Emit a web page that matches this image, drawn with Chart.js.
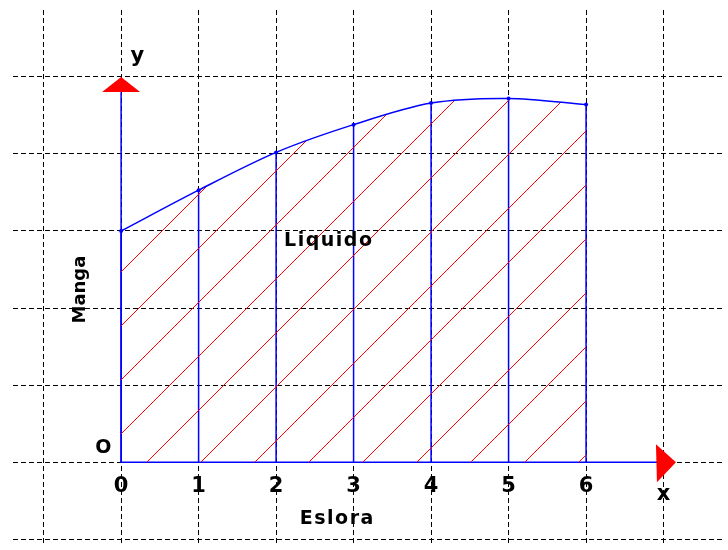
<!DOCTYPE html>
<html>
<head>
<meta charset="utf-8">
<script src="https://cdn.jsdelivr.net/npm/chart.js@4.4.1/dist/chart.umd.min.js"></script>
<style>
  html, body { margin: 0; padding: 0; background: #fff; }
</style>
</head>
<body>
<canvas id="chart" width="728" height="550"></canvas>
<script>
// stations along the length (Eslora) and half-breadths (Manga)
const eslora = [0, 1, 2, 3, 4, 5, 6];
const manga = [3.0, 3.53, 4.02, 4.38, 4.66, 4.72, 4.64];
const tickLabels = ['0', '1', '2', '3', '4', '5', '6'];

// visible window of the grid, in data units
const xRange = [-1.395, 7.78];
const yRange = [-1.088, 5.868];
const xAxisEnd = 7;
const yAxisEnd = 4.8;

const BLUE = '#0000ff';
const RED = '#ff0000';
const FONT = '"DejaVu Sans", "Liberation Sans", sans-serif';

// diagonal red hatching used as the fill under the curve
function makeHatch() {
    const c = document.createElement('canvas');
    c.width = 54;
    c.height = 54;
    const g = c.getContext('2d');
    g.strokeStyle = RED;
    g.lineWidth = 1;
    g.beginPath();
    g.moveTo(-10, 25); g.lineTo(25, -10);
    g.moveTo(10, 59); g.lineTo(59, 10);
    g.stroke();
    return g.createPattern(c, 'repeat');
}

const ctx = document.getElementById('chart').getContext('2d');

const datasets = [{
    data: eslora.map((v, i) => ({ x: v, y: manga[i] })),
    borderColor: BLUE,
    borderWidth: 1.5,
    backgroundColor: makeHatch(),
    fill: 'origin',
    tension: 0.3,
    pointRadius: 2,
    pointBackgroundColor: BLUE,
    pointBorderWidth: 0
}];

// vertical ordinates at every station
eslora.forEach((v, i) => {
    datasets.push({
        data: [{ x: v, y: 0 }, { x: v, y: manga[i] }],
        borderColor: BLUE,
        borderWidth: 1.5,
        pointRadius: 0,
        fill: false
    });
});

// the two axes
datasets.push({
    data: [{ x: 0, y: 0 }, { x: xAxisEnd, y: 0 }],
    borderColor: BLUE, borderWidth: 1.5, pointRadius: 0, fill: false
});
datasets.push({
    data: [{ x: 0, y: 0 }, { x: 0, y: yAxisEnd }],
    borderColor: BLUE, borderWidth: 1.5, pointRadius: 0, fill: false
});

const annotations = {
    id: 'annotations',
    afterDatasetsDraw(chart) {
        const c = chart.ctx;
        const xs = chart.scales.x;
        const ys = chart.scales.y;
        const px = v => xs.getPixelForValue(v);
        const py = v => ys.getPixelForValue(v);

        c.save();
        // arrow heads
        c.fillStyle = RED;
        const ox = px(0), top = py(5);
        c.beginPath();
        c.moveTo(ox, top);
        c.lineTo(ox + 19, top + 15);
        c.lineTo(ox - 19, top + 15);
        c.closePath();
        c.fill();

        const oy = py(0), tip = px(7.16);
        c.beginPath();
        c.moveTo(tip, oy);
        c.lineTo(tip - 20, oy - 18);
        c.lineTo(tip - 19, oy + 20);
        c.closePath();
        c.fill();

        // texts
        c.fillStyle = '#000';
        c.textAlign = 'center';
        c.textBaseline = 'middle';

        c.font = 'bold 21px ' + FONT;
        tickLabels.forEach((t, i) => c.fillText(t, px(eslora[i]), py(-0.31)));

        c.font = 'bold 19px ' + FONT;
        c.fillText('O', px(-0.23), py(0.18));

        c.font = 'bold 21px ' + FONT;
        c.fillText('y', px(0.21), py(5.27));
        c.fillText('x', px(7.0), py(-0.42));

        c.font = 'bold 19px ' + FONT;
        c.letterSpacing = '1.5px';
        c.fillText('Liquido', px(2.68), py(2.87));
        c.fillText('Eslora', px(2.79), py(-0.74));

        c.letterSpacing = '0px';
        c.font = 'bold 18px ' + FONT;
        c.translate(px(-0.53), py(2.24));
        c.rotate(-Math.PI / 2);
        c.fillText('Manga', 0, 0);
        c.restore();
    }
};

const gridAxis = (range) => ({
    type: 'linear',
    min: range[0],
    max: range[1],
    ticks: { display: false, stepSize: 1, includeBounds: false },
    grid: { color: '#000', lineWidth: 1, drawTicks: false },
    border: { display: false, dash: [5, 3] }
});

new Chart(ctx, {
    type: 'line',
    data: { datasets: datasets },
    options: {
        responsive: false,
        animation: false,
        layout: { padding: { left: 13, top: 10, right: 0, bottom: 0 } },
        scales: {
            x: gridAxis(xRange),
            y: gridAxis(yRange)
        },
        plugins: {
            legend: { display: false },
            tooltip: { enabled: false }
        }
    },
    plugins: [annotations]
});
</script>
</body>
</html>
